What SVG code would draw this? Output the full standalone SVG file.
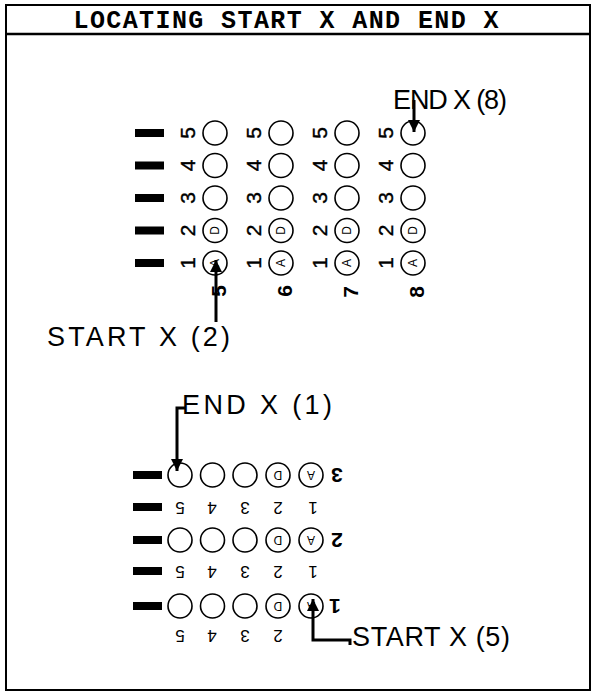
<svg xmlns="http://www.w3.org/2000/svg" width="593" height="695" viewBox="0 0 593 695">
<style>
.frame{fill:none;stroke:#000;stroke-width:2}
.bar{fill:#000}
.c{fill:#fff;stroke:#000;stroke-width:1.6}
.d{font-family:"Liberation Sans",Arial,sans-serif;font-size:21px;fill:#000;stroke:#000;stroke-width:0.4}
.ds{font-family:"Liberation Sans",Arial,sans-serif;font-size:17px;fill:#000}
.db{font-family:"Liberation Sans",Arial,sans-serif;font-size:21px;font-weight:bold;fill:#000}
.l{font-family:"Liberation Sans",Arial,sans-serif;font-size:12px;fill:#000}
.lab{font-family:"Liberation Sans",Arial,sans-serif;font-size:27px;fill:#000}
.title{font-family:"Liberation Mono","Courier New",monospace;font-size:25px;font-weight:bold;fill:#000}
.conn{fill:none;stroke:#000;stroke-width:3}
</style>
<defs>
<marker id="ah" markerUnits="userSpaceOnUse" markerWidth="12" markerHeight="16" refX="12" refY="6" orient="auto">
<path d="M0,0 L12,6 L0,12 Z" fill="#000"/>
</marker>
</defs>
<g id="frame">
<rect class="frame" x="6" y="5" width="584" height="685"/>
<line x1="6" y1="34" x2="590" y2="34" stroke="#000" stroke-width="2.5"/>
<text class="title" x="286" y="28" text-anchor="middle" textLength="425" lengthAdjust="spacing">LOCATING START X AND END X</text>
</g>
<g id="top-grid">
<rect class="bar" x="135" y="129" width="29" height="8"/>
<rect class="bar" x="135" y="161.5" width="29" height="8"/>
<rect class="bar" x="135" y="194" width="29" height="8"/>
<rect class="bar" x="135" y="226.5" width="29" height="8"/>
<rect class="bar" x="135" y="259" width="29" height="8"/>
<g id="col-5">
<circle class="c" cx="215" cy="133" r="12"/><circle class="c" cx="215" cy="165.5" r="12"/><circle class="c" cx="215" cy="198" r="12"/><circle class="c" cx="215" cy="230.5" r="12"/><circle class="c" cx="215" cy="263" r="12"/>
<text class="d" text-anchor="middle" dominant-baseline="central" transform="translate(187,133) rotate(-90)">5</text>
<text class="d" text-anchor="middle" dominant-baseline="central" transform="translate(187,165.5) rotate(-90)">4</text>
<text class="d" text-anchor="middle" dominant-baseline="central" transform="translate(187,198) rotate(-90)">3</text>
<text class="d" text-anchor="middle" dominant-baseline="central" transform="translate(187,230.5) rotate(-90)">2</text>
<text class="d" text-anchor="middle" dominant-baseline="central" transform="translate(187,263) rotate(-90)">1</text>
<text class="l" text-anchor="middle" dominant-baseline="central" transform="translate(215,230.5) rotate(-90)">D</text>
<text class="l" text-anchor="middle" dominant-baseline="central" transform="translate(215,263) rotate(-90)">A</text>
<text class="db" text-anchor="middle" dominant-baseline="central" transform="translate(218,291) rotate(-90)">5</text>
</g>
<g id="col-6">
<circle class="c" cx="281" cy="133" r="12"/><circle class="c" cx="281" cy="165.5" r="12"/><circle class="c" cx="281" cy="198" r="12"/><circle class="c" cx="281" cy="230.5" r="12"/><circle class="c" cx="281" cy="263" r="12"/>
<text class="d" text-anchor="middle" dominant-baseline="central" transform="translate(253,133) rotate(-90)">5</text>
<text class="d" text-anchor="middle" dominant-baseline="central" transform="translate(253,165.5) rotate(-90)">4</text>
<text class="d" text-anchor="middle" dominant-baseline="central" transform="translate(253,198) rotate(-90)">3</text>
<text class="d" text-anchor="middle" dominant-baseline="central" transform="translate(253,230.5) rotate(-90)">2</text>
<text class="d" text-anchor="middle" dominant-baseline="central" transform="translate(253,263) rotate(-90)">1</text>
<text class="l" text-anchor="middle" dominant-baseline="central" transform="translate(281,230.5) rotate(-90)">D</text>
<text class="l" text-anchor="middle" dominant-baseline="central" transform="translate(281,263) rotate(-90)">A</text>
<text class="db" text-anchor="middle" dominant-baseline="central" transform="translate(284,291) rotate(-90)">6</text>
</g>
<g id="col-7">
<circle class="c" cx="347" cy="133" r="12"/><circle class="c" cx="347" cy="165.5" r="12"/><circle class="c" cx="347" cy="198" r="12"/><circle class="c" cx="347" cy="230.5" r="12"/><circle class="c" cx="347" cy="263" r="12"/>
<text class="d" text-anchor="middle" dominant-baseline="central" transform="translate(319,133) rotate(-90)">5</text>
<text class="d" text-anchor="middle" dominant-baseline="central" transform="translate(319,165.5) rotate(-90)">4</text>
<text class="d" text-anchor="middle" dominant-baseline="central" transform="translate(319,198) rotate(-90)">3</text>
<text class="d" text-anchor="middle" dominant-baseline="central" transform="translate(319,230.5) rotate(-90)">2</text>
<text class="d" text-anchor="middle" dominant-baseline="central" transform="translate(319,263) rotate(-90)">1</text>
<text class="l" text-anchor="middle" dominant-baseline="central" transform="translate(347,230.5) rotate(-90)">D</text>
<text class="l" text-anchor="middle" dominant-baseline="central" transform="translate(347,263) rotate(-90)">A</text>
<text class="db" text-anchor="middle" dominant-baseline="central" transform="translate(350,292) rotate(-90)">7</text>
</g>
<g id="col-8">
<circle class="c" cx="413" cy="133" r="12"/><circle class="c" cx="413" cy="165.5" r="12"/><circle class="c" cx="413" cy="198" r="12"/><circle class="c" cx="413" cy="230.5" r="12"/><circle class="c" cx="413" cy="263" r="12"/>
<text class="d" text-anchor="middle" dominant-baseline="central" transform="translate(385,133) rotate(-90)">5</text>
<text class="d" text-anchor="middle" dominant-baseline="central" transform="translate(385,165.5) rotate(-90)">4</text>
<text class="d" text-anchor="middle" dominant-baseline="central" transform="translate(385,198) rotate(-90)">3</text>
<text class="d" text-anchor="middle" dominant-baseline="central" transform="translate(385,230.5) rotate(-90)">2</text>
<text class="d" text-anchor="middle" dominant-baseline="central" transform="translate(385,263) rotate(-90)">1</text>
<text class="l" text-anchor="middle" dominant-baseline="central" transform="translate(413,230.5) rotate(-90)">D</text>
<text class="l" text-anchor="middle" dominant-baseline="central" transform="translate(413,263) rotate(-90)">A</text>
<text class="db" text-anchor="middle" dominant-baseline="central" transform="translate(416,292) rotate(-90)">8</text>
</g>
</g>
<g id="bottom-grid">
<rect class="bar" x="133" y="471" width="29" height="8"/>
<rect class="bar" x="133" y="503" width="29" height="8"/>
<rect class="bar" x="133" y="536" width="29" height="8"/>
<rect class="bar" x="133" y="567" width="29" height="8"/>
<rect class="bar" x="133" y="602" width="29" height="8"/>
<g id="row-3">
<circle class="c" cx="180" cy="475" r="12"/><circle class="c" cx="212.5" cy="475" r="12"/><circle class="c" cx="245" cy="475" r="12"/><circle class="c" cx="278" cy="475" r="12"/><circle class="c" cx="311" cy="475" r="12"/>
<text class="l" text-anchor="middle" dominant-baseline="central" transform="translate(278,475) rotate(180)">D</text>
<text class="l" text-anchor="middle" dominant-baseline="central" transform="translate(311,475) rotate(180)">A</text>
<text class="db" text-anchor="middle" dominant-baseline="central" transform="translate(337,475) rotate(180)">3</text>
<text class="ds" text-anchor="middle" dominant-baseline="central" transform="translate(180,507) rotate(180)">5</text>
<text class="ds" text-anchor="middle" dominant-baseline="central" transform="translate(212,507) rotate(180)">4</text>
<text class="ds" text-anchor="middle" dominant-baseline="central" transform="translate(245,507) rotate(180)">3</text>
<text class="ds" text-anchor="middle" dominant-baseline="central" transform="translate(278,507) rotate(180)">2</text>
<text class="ds" text-anchor="middle" dominant-baseline="central" transform="translate(313,507) rotate(180)">1</text>
</g>
<g id="row-2">
<circle class="c" cx="180" cy="540" r="12"/><circle class="c" cx="212.5" cy="540" r="12"/><circle class="c" cx="245" cy="540" r="12"/><circle class="c" cx="278" cy="540" r="12"/><circle class="c" cx="311" cy="540" r="12"/>
<text class="l" text-anchor="middle" dominant-baseline="central" transform="translate(278,540) rotate(180)">D</text>
<text class="l" text-anchor="middle" dominant-baseline="central" transform="translate(311,540) rotate(180)">A</text>
<text class="db" text-anchor="middle" dominant-baseline="central" transform="translate(337,540) rotate(180)">2</text>
<text class="ds" text-anchor="middle" dominant-baseline="central" transform="translate(180,571) rotate(180)">5</text>
<text class="ds" text-anchor="middle" dominant-baseline="central" transform="translate(212,571) rotate(180)">4</text>
<text class="ds" text-anchor="middle" dominant-baseline="central" transform="translate(245,571) rotate(180)">3</text>
<text class="ds" text-anchor="middle" dominant-baseline="central" transform="translate(278,571) rotate(180)">2</text>
<text class="ds" text-anchor="middle" dominant-baseline="central" transform="translate(313,571) rotate(180)">1</text>
</g>
<g id="row-1">
<circle class="c" cx="180" cy="606" r="12"/><circle class="c" cx="212.5" cy="606" r="12"/><circle class="c" cx="245" cy="606" r="12"/><circle class="c" cx="278" cy="606" r="12"/><circle class="c" cx="311" cy="606" r="12"/>
<text class="l" text-anchor="middle" dominant-baseline="central" transform="translate(278,606) rotate(180)">D</text>
<text class="l" text-anchor="middle" dominant-baseline="central" transform="translate(311,606) rotate(180)">A</text>
<text class="db" text-anchor="middle" dominant-baseline="central" transform="translate(335,606) rotate(180)">1</text>
<text class="ds" text-anchor="middle" dominant-baseline="central" transform="translate(180,635) rotate(180)">5</text>
<text class="ds" text-anchor="middle" dominant-baseline="central" transform="translate(212,635) rotate(180)">4</text>
<text class="ds" text-anchor="middle" dominant-baseline="central" transform="translate(245,635) rotate(180)">3</text>
<text class="ds" text-anchor="middle" dominant-baseline="central" transform="translate(278,635) rotate(180)">2</text>
</g>
</g>
<g id="labels">
<text id="end8" class="lab" x="393" y="109" font-size="25" textLength="114" lengthAdjust="spacing">END X (8)</text>
<text id="start2" class="lab" x="47" y="346" textLength="183" lengthAdjust="spacing">START X (2)</text>
<text id="end1" class="lab" x="182" y="414" textLength="150" lengthAdjust="spacing">END X (1)</text>
<text id="start5" class="lab" x="352" y="646" textLength="158" lengthAdjust="spacing">START X (5)</text>
</g>
<g id="connectors">
<path class="conn" d="M414,100 V132" marker-end="url(#ah)"/>
<path class="conn" d="M216,322 V260" marker-end="url(#ah)"/>
<path class="conn" d="M186,408 H177 V471" marker-end="url(#ah)"/>
<path class="conn" d="M350,645 V640 H313 V599" marker-end="url(#ah)"/>
</g>
</svg>
